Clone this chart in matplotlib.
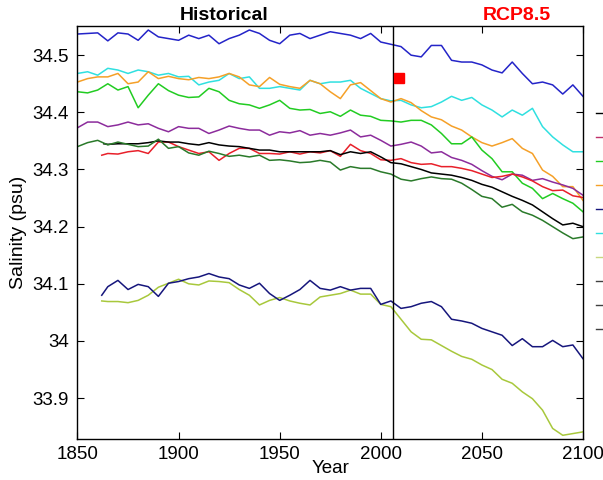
import matplotlib
matplotlib.use('Agg')
import matplotlib.pyplot as plt
from matplotlib.lines import Line2D
from matplotlib.ticker import FuncFormatter

plt.rcParams['font.family'] = 'Liberation Sans'

# model years (5-yearly)
YEARS = list(range(1850, 2101, 5))
YEARS_1862 = [1862] + list(range(1865, 2101, 5))
YEARS_1863 = [1863] + list(range(1865, 2101, 5))

BLUE = [34.537, 34.538, 34.539, 34.525, 34.539, 34.537, 34.526, 34.544, 34.532, 34.529,
        34.526, 34.535, 34.529, 34.535, 34.520, 34.529, 34.535, 34.544, 34.538, 34.526,
        34.520, 34.535, 34.538, 34.529, 34.535, 34.541, 34.538, 34.535, 34.529, 34.538,
        34.523, 34.519, 34.515, 34.500, 34.497, 34.517, 34.517, 34.491, 34.488, 34.488,
        34.483, 34.474, 34.469, 34.488, 34.468, 34.450, 34.453, 34.448, 34.432, 34.448,
        34.428]
CYAN = [34.468, 34.471, 34.465, 34.477, 34.474, 34.468, 34.474, 34.471, 34.465, 34.468,
        34.462, 34.463, 34.448, 34.453, 34.456, 34.468, 34.459, 34.462, 34.442, 34.442,
        34.445, 34.442, 34.439, 34.456, 34.450, 34.453, 34.453, 34.456, 34.442, 34.433,
        34.424, 34.420, 34.421, 34.413, 34.408, 34.410, 34.418, 34.428, 34.421, 34.426,
        34.413, 34.404, 34.392, 34.404, 34.395, 34.407, 34.375, 34.357, 34.343, 34.331,
        34.331]
ORANGE = [34.453, 34.459, 34.462, 34.462, 34.468, 34.450, 34.453, 34.471, 34.459, 34.463,
          34.459, 34.457, 34.461, 34.459, 34.462, 34.468, 34.462, 34.448, 34.445, 34.461,
          34.449, 34.445, 34.442, 34.456, 34.450, 34.436, 34.424, 34.448, 34.452, 34.438,
          34.424, 34.418, 34.424, 34.417, 34.403, 34.392, 34.387, 34.376, 34.369, 34.357,
          34.347, 34.341, 34.347, 34.354, 34.337, 34.328, 34.299, 34.288, 34.270, 34.270,
          34.246]
GREEN = [34.436, 34.434, 34.439, 34.450, 34.439, 34.445, 34.408, 34.430, 34.450, 34.438,
         34.430, 34.426, 34.427, 34.442, 34.436, 34.421, 34.415, 34.413, 34.407, 34.413,
         34.421, 34.407, 34.404, 34.405, 34.398, 34.401, 34.393, 34.404, 34.395, 34.393,
         34.386, 34.385, 34.383, 34.386, 34.386, 34.378, 34.363, 34.345, 34.345, 34.357,
         34.334, 34.319, 34.296, 34.296, 34.276, 34.267, 34.249, 34.258, 34.249, 34.241,
         34.226]
PURPLE = [34.373, 34.383, 34.383, 34.375, 34.378, 34.383, 34.378, 34.380, 34.372, 34.366,
          34.375, 34.372, 34.372, 34.363, 34.369, 34.376, 34.372, 34.369, 34.369, 34.360,
          34.366, 34.364, 34.368, 34.360, 34.363, 34.360, 34.364, 34.369, 34.357, 34.360,
          34.351, 34.341, 34.344, 34.348, 34.341, 34.329, 34.331, 34.321, 34.316, 34.309,
          34.298, 34.288, 34.282, 34.292, 34.290, 34.281, 34.284, 34.278, 34.273, 34.267,
          34.255]
DKGREEN = [34.340, 34.347, 34.351, 34.343, 34.348, 34.344, 34.340, 34.341, 34.353, 34.337,
           34.340, 34.329, 34.325, 34.332, 34.328, 34.323, 34.325, 34.322, 34.325, 34.316,
           34.317, 34.315, 34.312, 34.313, 34.316, 34.313, 34.299, 34.305, 34.302, 34.302,
           34.296, 34.292, 34.283, 34.280, 34.284, 34.287, 34.284, 34.283, 34.276, 34.265,
           34.253, 34.249, 34.234, 34.239, 34.226, 34.220, 34.211, 34.200, 34.189, 34.179,
           34.182]
RED = [34.325,
       34.328, 34.327, 34.331, 34.333, 34.328, 34.348, 34.348, 34.340,
       34.334, 34.328, 34.331, 34.316, 34.328, 34.337, 34.337, 34.328, 34.328,
       34.327, 34.331, 34.327, 34.331, 34.329, 34.333, 34.323, 34.344, 34.333, 34.328,
       34.317, 34.316, 34.319, 34.312, 34.309, 34.310, 34.305, 34.305, 34.302, 34.298,
       34.292, 34.286, 34.288, 34.292, 34.287, 34.280, 34.270, 34.263, 34.264, 34.254,
       34.251]
BLACK = [34.345,
         34.344, 34.345, 34.345, 34.345, 34.347, 34.350, 34.348, 34.348,
         34.345, 34.343, 34.347, 34.343, 34.341, 34.340, 34.337, 34.334, 34.334,
         34.331, 34.331, 34.331, 34.331, 34.331, 34.333, 34.326, 34.331, 34.328, 34.331,
         34.322, 34.312, 34.310, 34.305, 34.300, 34.294, 34.292, 34.290, 34.286, 34.281,
         34.274, 34.269, 34.261, 34.253, 34.246, 34.238, 34.226, 34.214, 34.203, 34.206,
         34.200]
NAVY = [34.080,
        34.095, 34.106, 34.090, 34.099, 34.095, 34.078, 34.101, 34.104,
        34.109, 34.112, 34.118, 34.112, 34.109, 34.098, 34.092, 34.101, 34.083,
        34.071, 34.080, 34.090, 34.106, 34.092, 34.089, 34.095, 34.089, 34.092, 34.092,
        34.064, 34.070, 34.057, 34.060, 34.066, 34.069, 34.060, 34.038, 34.035, 34.031,
        34.022, 34.016, 34.010, 33.992, 34.004, 33.990, 33.990, 34.001, 33.990, 33.993,
        33.969]
YGREEN = [34.070,
          34.069, 34.069, 34.067, 34.071, 34.080, 34.094, 34.101, 34.108,
          34.100, 34.098, 34.105, 34.104, 34.102, 34.090, 34.080, 34.063, 34.071,
          34.076, 34.070, 34.066, 34.063, 34.077, 34.080, 34.083, 34.089, 34.082, 34.082,
          34.064, 34.060, 34.038, 34.016, 34.003, 34.002, 33.992, 33.982, 33.973, 33.968,
          33.958, 33.950, 33.933, 33.926, 33.911, 33.899, 33.879, 33.847, 33.835, 33.838,
          33.841]

OBS_YEAR = 2009
OBS_VALUE = 34.460
SCENARIO_START = 2006

series = [
    (YEARS, BLUE, '#2424c8'),
    (YEARS, CYAN, '#30e0e0'),
    (YEARS, ORANGE, '#f5a028'),
    (YEARS, GREEN, '#22cc22'),
    (YEARS, PURPLE, '#8c2c9c'),
    (YEARS_1862, RED, '#e8202a'),
    (YEARS_1863, BLACK, '#000000'),
    (YEARS, DKGREEN, '#2a7a2a'),
    (YEARS_1862, YGREEN, '#a8c83c'),
    (YEARS_1862, NAVY, '#16167c'),
]

fig = plt.figure(figsize=(6.03, 4.80), dpi=100)
ax = fig.add_axes([0.1285, 0.0848, 0.8383, 0.861])

for yrs, vals, col in series:
    ax.plot(yrs, vals, color=col, lw=1.1)

ax.axvline(SCENARIO_START, color='black', lw=1.0)
ax.plot([OBS_YEAR], [OBS_VALUE], marker='s', color='red', ms=7, mec='red')

ax.set_xlim(1850, 2100)
ax.set_ylim(33.828, 34.551)
ax.set_xticks([1850, 1900, 1950, 2000, 2050, 2100])
ax.set_yticks([33.9, 34.0, 34.1, 34.2, 34.3, 34.4, 34.5])
ax.yaxis.set_major_formatter(FuncFormatter(lambda v, p: '%g' % round(v, 1)))
ax.tick_params(direction='in', length=5, top=True, right=True, labelsize=13.5)
ax.tick_params(axis='x', pad=5)
ax.tick_params(axis='y', pad=6)
for sp in ax.spines.values():
    sp.set_linewidth(1.0)

ax.set_xlabel('Year', fontsize=13.5, labelpad=-2.5)
ax.set_ylabel('Salinity (psu)', fontsize=14, labelpad=4)

fig.text(224 / 603, 1 - 15 / 480, 'Historical', fontsize=14, fontweight='bold',
         ha='center', va='center')
fig.text(517 / 603, 1 - 15 / 480, 'RCP8.5', fontsize=14, fontweight='bold',
         color='red', ha='center', va='center')

# clipped legend keys along the right edge
key_colors = ['#000000', '#c0306a', '#22cc22', '#f5a028', '#16167c',
              '#30e0e0', '#c8d880', '#404040', '#404040', '#404040']
for i, col in enumerate(key_colors):
    yk = 1 - (113 + 24 * i) / 480
    fig.add_artist(Line2D([596 / 603, 1.0], [yk, yk], color=col, lw=1.0))

plt.savefig('out.png', dpi=100)
